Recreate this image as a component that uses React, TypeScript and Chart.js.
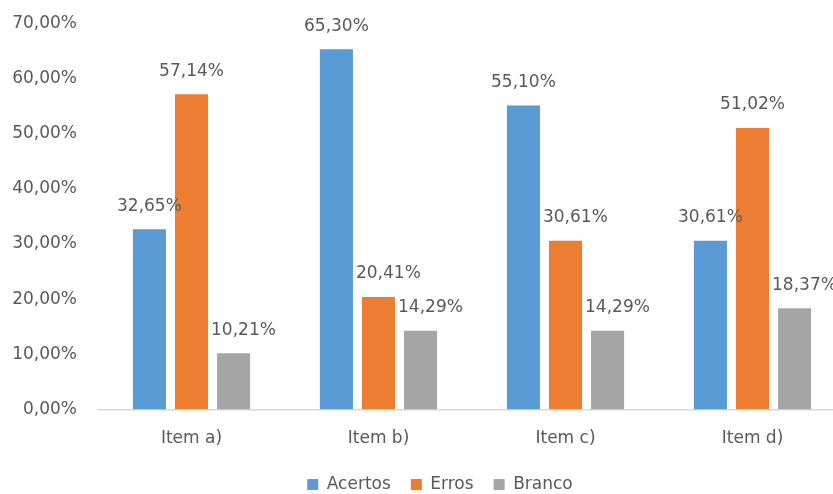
import React, { useEffect, useRef } from "react";
import { Chart, registerables } from "chart.js";

Chart.register(...registerables);

const categories = ["Item a)", "Item b)", "Item c)", "Item d)"];
const acertos = [32.65, 65.3, 55.1, 30.61];
const erros = [57.14, 20.41, 30.61, 51.02];
const branco = [10.21, 14.29, 14.29, 18.37];
const seriesNames = ["Acertos", "Erros", "Branco"];
const yTicks = [0, 10, 20, 30, 40, 50, 60, 70];

const FONT = "'DejaVu Sans', sans-serif";
const TEXT = "#595959";
const W = 880;
const H = 503;

const fmt = (v: number) => v.toFixed(2).replace(".", ",") + "%";

// Value labels above bars; a label that would collide with the taller bar on
// its left is nudged right so it starts just past that bar.
const valueLabels = {
  id: "valueLabels",
  afterDatasetsDraw(chart: any) {
    const ctx = chart.ctx;
    ctx.save();
    ctx.font = `17px ${FONT}`;
    ctx.fillStyle = TEXT;
    ctx.textAlign = "center";
    ctx.textBaseline = "middle";
    chart.data.datasets.forEach((ds: any, i: number) => {
      const meta = chart.getDatasetMeta(i);
      meta.data.forEach((bar: any, j: number) => {
        const text = fmt(ds.data[j]);
        const w = ctx.measureText(text).width;
        let x = bar.x;
        const y = bar.y - 23;
        if (i > 0) {
          const prev = chart.getDatasetMeta(i - 1).data[j];
          const prevRight = prev.x + prev.width / 2;
          if (prev.y < y + 8 && x - w / 2 < prevRight) {
            x = prevRight + 3 + w / 2;
          }
        }
        ctx.fillText(text, x, y);
      });
    });
    ctx.restore();
  },
};

export default function App() {
  const ref = useRef<HTMLCanvasElement>(null);
  useEffect(() => {
    document.body.style.margin = "0";
    document.body.style.overflow = "hidden";
    document.documentElement.style.overflow = "hidden";
    const chart = new Chart(ref.current!, {
      type: "bar",
      data: {
        labels: categories,
        datasets: [
          { label: seriesNames[0], data: acertos, backgroundColor: "#5B9BD5" },
          { label: seriesNames[1], data: erros, backgroundColor: "#ED7D31" },
          { label: seriesNames[2], data: branco, backgroundColor: "#A5A5A5" },
        ],
      },
      options: {
        responsive: false,
        animation: false,
        maintainAspectRatio: false,
        devicePixelRatio: 1,
        layout: { padding: { top: 12, left: 0, right: 0, bottom: 0 } },
        datasets: { bar: { categoryPercentage: 0.675, barPercentage: 0.786 } },
        scales: {
          x: {
            grid: { display: false },
            border: { display: true, color: "#d9d9d9", width: 1.5 },
            ticks: { color: TEXT, font: { family: FONT, size: 17 }, padding: 11 },
            afterFit: (s: any) => { s.height -= 4; },
          },
          y: {
            min: 0,
            max: 70,
            afterBuildTicks: (s: any) => { s.ticks = yTicks.map((v) => ({ value: v })); },
            grid: { display: false },
            border: { display: false },
            ticks: {
              color: TEXT,
              font: { family: FONT, size: 17 },
              padding: 13,
              callback: (v: any) => fmt(Number(v)),
            },
            afterFit: (s: any) => { s.width = 98; },
          },
          y2: {
            position: "right",
            display: true,
            grid: { display: false },
            border: { display: false },
            ticks: { display: false },
            afterFit: (s: any) => { s.width = 34; },
          },
        },
        plugins: {
          legend: {
            position: "bottom",
            labels: {
              boxWidth: 11,
              boxHeight: 11,
              padding: 20,
              color: TEXT,
              font: { family: FONT, size: 17 },
            },
          },
          tooltip: { enabled: false },
        },
      },
      plugins: [valueLabels],
    });
    return () => chart.destroy();
  }, []);
  return (
    <div style={{ position: "absolute", left: 0, top: 0, width: W, height: H }}>
      <canvas ref={ref} width={W} height={H} style={{ width: W, height: H, display: "block" }} />
    </div>
  );
}
